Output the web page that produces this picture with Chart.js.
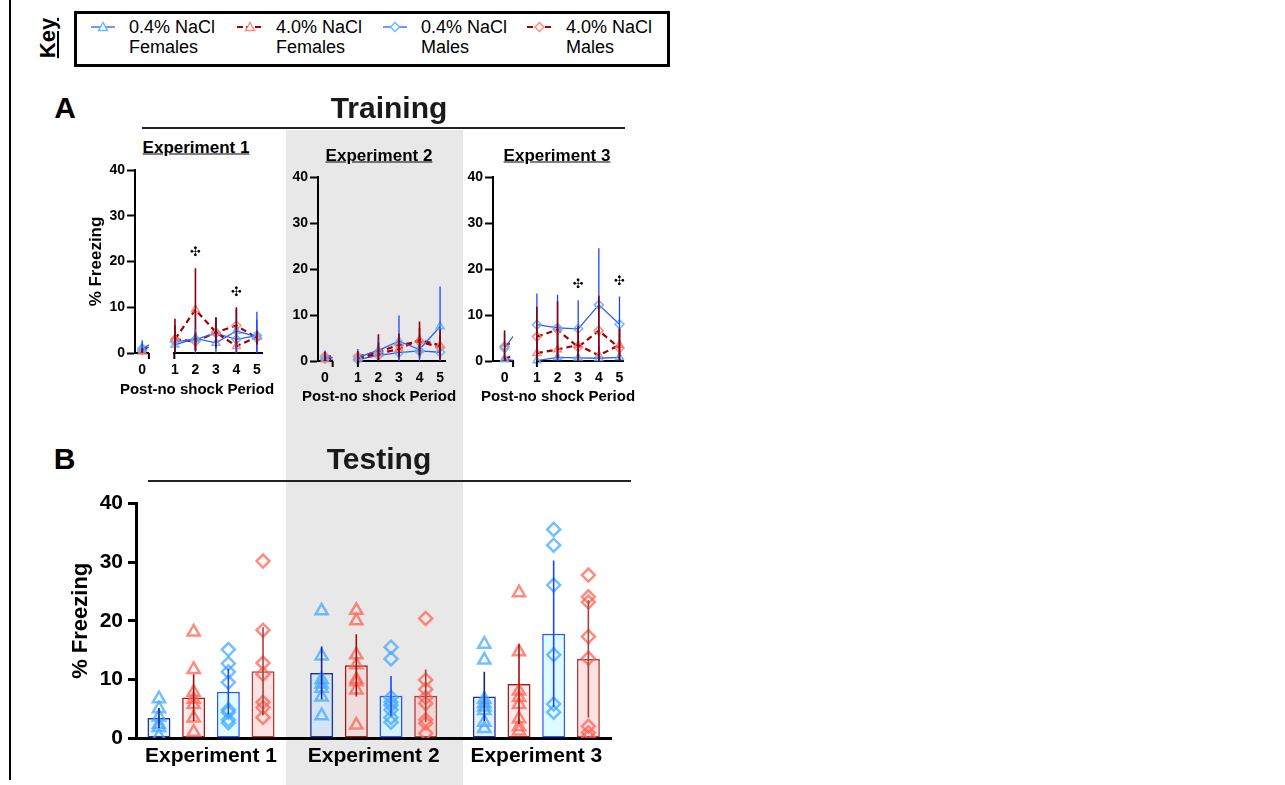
<!DOCTYPE html>
<html><head><meta charset="utf-8"><title>% Freezing – Training and Testing</title>
<script src="https://cdn.jsdelivr.net/npm/chart.js@4.4.1/dist/chart.umd.min.js"></script>
<style>
html,body{margin:0;padding:0;}
body{width:1285px;height:785px;position:relative;overflow:hidden;background:#fff;font-family:"Liberation Sans",Arial,Helvetica,sans-serif;color:#000;}
canvas{position:absolute;}
.box{position:absolute;}
.txt{position:absolute;white-space:nowrap;font-weight:bold;line-height:1;transform:translate(-50%,-50%);}
.leg{position:absolute;white-space:nowrap;font-size:18px;line-height:19.5px;}
</style></head><body>
<div class="box" style="left:286px;top:130px;width:177px;height:655px;background:#e8e8e8;"></div>
<div class="box" style="left:9px;top:0;width:2px;height:780px;background:#000;"></div>
<div class="box" style="left:142px;top:127px;width:483px;height:1.5px;background:#222;"></div>
<div class="box" style="left:148px;top:480px;width:483px;height:1.5px;background:#222;"></div>
<div class="box" style="left:74px;top:11px;width:596px;height:56px;border:3px solid #000;box-sizing:border-box;"></div>
<script>
// ================= DATA =================
// Training: % freezing per post-no shock period (mean, SD)
const periods = [0, 1, 2, 3, 4, 5];

const exp1_F04 = [0.8, 1.8, 3.2, 2.2, 4.8, 3.6];
const exp1_F04_sd = [1.5, 1.8, 6.0, 2.5, 4.8, 5.4];
const exp1_F40 = [0.3, 3.0, 9.5, 4.5, 1.5, 3.5];
const exp1_F40_sd = [0.5, 4.5, 9.0, 3.3, 2.0, 1.5];
const exp1_M04 = [1.0, 2.5, 3.0, 4.3, 3.0, 3.8];
const exp1_M04_sd = [1.8, 2.0, 2.5, 3.5, 6.5, 3.5];
const exp1_M40 = [0.6, 3.0, 2.5, 4.5, 6.0, 3.3];
const exp1_M40_sd = [0.5, 3.0, 2.0, 3.2, 4.0, 1.5];
const exp1_sigPeriods = [2, 4];
const exp1_sigY = [22, 13.3];

const exp2_F04 = [0.8, 0.8, 2.3, 4.3, 2.5, 7.5];
const exp2_F04_sd = [1.5, 1.8, 2.8, 5.6, 2.5, 8.7];
const exp2_F40 = [0.3, 0.6, 1.6, 2.6, 4.6, 3.4];
const exp2_F40_sd = [0.8, 1.0, 4.2, 2.0, 4.0, 3.5];
const exp2_M04 = [0.5, 0.3, 1.2, 1.8, 2.2, 1.9];
const exp2_M04_sd = [1.0, 0.8, 3.5, 2.5, 1.5, 2.0];
const exp2_M40 = [1.0, 1.0, 2.0, 3.5, 4.2, 3.0];
const exp2_M40_sd = [1.0, 1.2, 2.0, 2.5, 3.0, 2.5];
const exp2_sigPeriods = [];
const exp2_sigY = [];

const exp3_F04 = [0.3, 0.1, 0.8, 0.7, 0.6, 0.8];
const exp3_F04_sd = [0.5, 0.3, 1.0, 1.0, 1.0, 1.0];
const exp3_F40 = [0.5, 1.7, 2.5, 3.5, 1.2, 3.5];
const exp3_F40_sd = [0.5, 3.5, 3.5, 4.0, 2.0, 3.5];
const exp3_M04 = [2.8, 7.9, 7.2, 7.0, 12.2, 8.0];
const exp3_M04_sd = [3.2, 6.8, 7.2, 6.2, 12.3, 6.0];
const exp3_M40 = [3.2, 5.3, 6.8, 3.0, 6.6, 2.8];
const exp3_M40_sd = [3.5, 6.5, 6.2, 4.5, 7.6, 4.2];
const exp3_sigPeriods = [3, 5];
const exp3_sigY = [16.6, 17.2];

const yTicks = [0, 10, 20, 30, 40];

// Testing: % freezing (bar = mean, SD, individual animals)
const experiments = ['Experiment 1', 'Experiment 2', 'Experiment 3'];
const test_F04_mean = [3.4, 11.1, 7.1];
const test_F04_sd = [1.7, 4.5, 4.2];
const test_F40_mean = [6.9, 12.4, 9.2];
const test_F40_sd = [4.0, 5.3, 6.8];
const test_M04_mean = [7.9, 7.2, 17.8];
const test_M04_sd = [3.9, 3.4, 12.5];
const test_M40_mean = [11.4, 7.2, 13.5];
const test_M40_sd = [7.5, 4.5, 10.0];
const test_F04_pts = [[6.7, 5.0, 3.6, 2.3, 1.8, 0.3], [21.7, 14.0, 10.0, 9.2, 8.5, 7.0, 3.8], [16.0, 13.3, 6.6, 5.9, 5.3, 4.7, 2.7, 1.6]];
const test_F40_pts = [[18.1, 11.7, 7.8, 6.6, 5.7, 3.4, 1.0], [21.8, 20.0, 14.2, 12.5, 10.0, 9.6, 8.2, 2.2], [24.8, 14.7, 8.0, 6.9, 5.7, 3.3, 1.9, 1.2]];
const test_M04_pts = [[15.1, 12.7, 11.3, 9.5, 4.8, 4.4, 3.1, 2.6], [15.5, 13.5, 6.9, 6.1, 5.6, 4.8, 3.5, 2.7], [35.6, 32.9, 26.1, 14.2, 5.8, 4.4]];
const test_M40_pts = [[30.2, 18.4, 12.8, 10.9, 6.1, 5.2, 3.5], [20.4, 9.9, 8.3, 6.9, 5.9, 3.1, 2.5, 0.8], [27.8, 24.1, 23.2, 17.3, 13.6, 2.0, 0.9, 0.2]];

const groupLabels = ['0.4% NaCl Females', '4.0% NaCl Females', '0.4% NaCl Males', '4.0% NaCl Males'];

// ================= STYLES / LAYOUT =================
const STY = [
  {line:'#2d5bff', dash:[], lw:1.3, marker:'triangle', mk:'rgba(90,180,255,0.9)', err:'#1f45ff', ew:1.3,
   fill:'rgba(185,222,255,0.42)', border:'#1d2f9e', terr:'#15238a', tmk:'rgba(70,170,255,0.75)'},
  {line:'#9e0000', dash:[6,4], lw:2.2, marker:'triangle', mk:'rgba(255,120,105,0.85)', err:'#8b0000', ew:1.6,
   fill:'rgba(248,200,200,0.35)', border:'#a31a1a', terr:'#9e0f0f', tmk:'rgba(255,100,85,0.75)'},
  {line:'#2d5bff', dash:[], lw:1.3, marker:'rectRot', mk:'rgba(90,180,255,0.9)', err:'#1f45ff', ew:1.3,
   fill:'rgba(200,248,255,0.6)', border:'#2a55ff', terr:'#1f44ff', tmk:'rgba(70,170,255,0.75)'},
  {line:'#9e0000', dash:[6,4], lw:2.2, marker:'rectRot', mk:'rgba(255,120,105,0.85)', err:'#8b0000', ew:1.6,
   fill:'rgba(250,185,185,0.42)', border:'#b13a3a', terr:'#a8403a', tmk:'rgba(255,100,85,0.75)'}
];

const TRAIN = [
  {title:'Experiment 1', means:[exp1_F04, exp1_F40, exp1_M04, exp1_M40], sds:[exp1_F04_sd, exp1_F40_sd, exp1_M04_sd, exp1_M40_sd], sigX:exp1_sigPeriods, sigY:exp1_sigY},
  {title:'Experiment 2', means:[exp2_F04, exp2_F40, exp2_M04, exp2_M40], sds:[exp2_F04_sd, exp2_F40_sd, exp2_M04_sd, exp2_M40_sd], sigX:exp2_sigPeriods, sigY:exp2_sigY},
  {title:'Experiment 3', means:[exp3_F04, exp3_F40, exp3_M04, exp3_M40], sds:[exp3_F04_sd, exp3_F40_sd, exp3_M04_sd, exp3_M40_sd], sigX:exp3_sigPeriods, sigY:exp3_sigY}
];
const TRAIN_LAYOUT = [
  {ax:135, s0e:156, s1s:172, s1e:262, top:170, bot:353, l:[-0.52,0.48], r:[0.97,5.25], yTitle:true, tx:196, ty:147, xx:197, xy:388},
  {ax:318, s0e:339, s1s:355, s1e:445, top:177, bot:361, l:[-0.47,0.52], r:[1.0,5.24], yTitle:false, tx:379, ty:155, xx:379, xy:395},
  {ax:493, s0e:518, s1s:534, s1e:623, top:177, bot:361, l:[-0.68,0.5], r:[1.0,5.17], yTitle:false, tx:557, ty:155, xx:558, xy:395}
];
const TEST_LAYOUT = {left:136, right:611, top:501, bot:738, xMin:-0.461, xMax:2.459, cat:0.853, bar:0.663};

// ================= PLUGINS =================
const errorBarPlugin = {
  id:'errbars',
  afterDatasetsDraw(chart){
    const ctx = chart.ctx, ca = chart.chartArea, ys = chart.scales.y;
    ctx.save();
    ctx.beginPath();
    ctx.rect(ca.left - 1.5, ca.top - 40, ca.right - ca.left + 3, ca.bottom - ca.top + 41);
    ctx.clip();
    chart.data.datasets.forEach((ds, i) => {
      if (!ds.errorBars) return;
      const meta = chart.getDatasetMeta(i);
      meta.data.forEach((el, j) => {
        const sd = ds.errorBars[j];
        if (sd == null) return;
        const raw = ds.data[j];
        const m = typeof raw === 'object' ? raw.y : raw;
        ctx.strokeStyle = ds.errorColor;
        ctx.lineWidth = ds.errorWidth || 1.5;
        ctx.setLineDash([]);
        ctx.beginPath();
        ctx.moveTo(el.x, ys.getPixelForValue(m + sd));
        ctx.lineTo(el.x, ys.getPixelForValue(Math.max(0, m - sd)));
        ctx.stroke();
      });
    });
    ctx.restore();
  }
};
const sigPlugin = {
  id:'sig',
  afterDatasetsDraw(chart, args, opts){
    if (!opts || !opts.x) return;
    const ctx = chart.ctx, xs = chart.scales.x, ys = chart.scales.y;
    ctx.save();
    ctx.fillStyle = '#000';
    ctx.font = '13px "DejaVu Sans"';
    ctx.textAlign = 'center'; ctx.textBaseline = 'middle';
    opts.x.forEach((p, i) => ctx.fillText('\u2723', xs.getPixelForValue(p), ys.getPixelForValue(opts.y[i])));
    ctx.restore();
  }
};
const brkPlugin = {
  id:'brk',
  afterDraw(chart, args, opts){
    const ca = chart.chartArea, ctx = chart.ctx;
    const x = opts.side === 'right' ? ca.right : ca.left;
    ctx.save(); ctx.strokeStyle = '#000'; ctx.lineWidth = 2;
    ctx.beginPath(); ctx.moveTo(x, ca.bottom); ctx.lineTo(x, ca.bottom + 6); ctx.stroke();
    ctx.restore();
  }
};

function makeCanvas(left, top, w, h){
  const c = document.createElement('canvas');
  c.width = Math.round(w); c.height = Math.round(h);
  c.style.left = Math.round(left) + 'px'; c.style.top = Math.round(top) + 'px';
  document.body.appendChild(c);
  return c;
}
function addText(text, cx, cy, css){
  const d = document.createElement('div');
  d.className = 'txt'; d.textContent = text;
  d.style.left = cx + 'px'; d.style.top = cy + 'px';
  d.style.cssText += css;
  document.body.appendChild(d);
  return d;
}

// ================= TRAINING CHARTS =================
const PADL = 52, PADT = 12, PADB = 40;
TRAIN.forEach((D, e) => {
  const L = TRAIN_LAYOUT[e];
  const h = PADT + (L.bot - L.top) + PADB;
  const mkSets = (useAll, clip) => STY.map((s, k) => {
    const idx = useAll ? periods.map((_, i) => i) : periods.map((_, i) => i).slice(1);
    return {
      label: groupLabels[k],
      data: idx.map(i => ({x: periods[i], y: D.means[k][i]})),
      errorBars: idx.map(i => D.sds[k][i]), errorColor: s.err, errorWidth: s.ew,
      borderColor: s.line, borderWidth: s.lw, borderDash: s.dash,
      pointStyle: s.marker, pointRadius: 4.5, pointBorderColor: s.mk,
      pointBackgroundColor: 'rgba(255,255,255,0)', pointBorderWidth: 1.5,
      clip: clip, tension: 0, fill: false
    };
  });
  const xCommon = {
    type:'linear', afterFit: s => { s.height = PADB; },
    grid:{display:true, drawOnChartArea:false, drawTicks:false},
    border:{display:true, color:'#000', width:2},
    ticks:{font:{size:14, weight:'bold', family:'"Liberation Sans", Arial'}, color:'#000', padding:9, callback: v => String(v)}
  };
  // left segment (period 0) with y axis
  const cL = makeCanvas(L.ax - PADL, L.top - PADT, PADL + (L.s0e - L.ax) + 2, h);
  new Chart(cL, {
    type:'line',
    data:{datasets: mkSets(true, {left:8, top:12, right:0, bottom:8})},
    options:{
      responsive:false, animation:false, events:[],
      layout:{padding:{left:0, right:2, top:PADT, bottom:0}},
      plugins:{legend:{display:false}, tooltip:{enabled:false}, brk:{side:'right'}},
      scales:{
        x: Object.assign({}, xCommon, {min:L.l[0], max:L.l[1], afterBuildTicks: s => { s.ticks = [{value:periods[0]}]; }}),
        y:{min:0, max:40, afterBuildTicks: s => { s.ticks = yTicks.map(v => ({value:v})); }, afterFit: s => { s.width = PADL; },
           grid:{drawOnChartArea:false, drawTicks:true, tickLength:8, tickColor:'#000', tickWidth:2},
           border:{display:true, color:'#000', width:2},
           ticks:{font:{size:14, weight:'bold', family:'"Liberation Sans", Arial'}, color:'#000', padding:2},
           title:{display:L.yTitle, text:'% Freezing', color:'#000', font:{size:17, weight:'bold', family:'"Liberation Sans", Arial'}, padding:{top:3, bottom:0}}}
      }
    },
    plugins:[errorBarPlugin, brkPlugin]
  });
  // right segment (periods 1-5)
  const cR = makeCanvas(L.s1s - 10, L.top - PADT, 10 + (L.s1e - L.s1s) + 10, h);
  new Chart(cR, {
    type:'line',
    data:{datasets: mkSets(false, {left:7, top:12, right:8, bottom:8})},
    options:{
      responsive:false, animation:false, events:[],
      layout:{padding:{left:10, right:10, top:PADT, bottom:0}},
      plugins:{legend:{display:false}, tooltip:{enabled:false}, brk:{side:'left'}, sig:{x:D.sigX, y:D.sigY}},
      scales:{
        x: Object.assign({}, xCommon, {min:L.r[0], max:L.r[1], afterBuildTicks: s => { s.ticks = periods.slice(1).map(v => ({value:v})); }}),
        y:{display:false, min:0, max:40}
      }
    },
    plugins:[errorBarPlugin, sigPlugin, brkPlugin]
  });
  addText(D.title, L.tx, L.ty, 'font-size:17px;text-decoration:underline;');
  addText('Post-no shock Period', L.xx, L.xy, 'font-size:15px;');
});

// ================= TESTING CHART =================
(function(){
  const T = TEST_LAYOUT;
  const TPADL = 76, TPADT = 15, TPADR = 20, TPADB = 46;
  const c = makeCanvas(T.left - TPADL, T.top - TPADT, TPADL + (T.right - T.left) + TPADR, TPADT + (T.bot - T.top) + TPADB);
  const means = [test_F04_mean, test_F40_mean, test_M04_mean, test_M40_mean];
  const sds = [test_F04_sd, test_F40_sd, test_M04_sd, test_M40_sd];
  const pts = [test_F04_pts, test_F40_pts, test_M04_pts, test_M40_pts];
  const slot = T.cat / STY.length;
  const bars = STY.map((s, k) => ({
    type:'bar', label: groupLabels[k],
    data: experiments.map((_, i) => ({x:i, y:means[k][i]})),
    errorBars: sds[k], errorColor: s.terr, errorWidth: 1.6,
    backgroundColor: s.fill, borderColor: s.border, borderWidth: 1.5, borderSkipped: false,
    categoryPercentage: T.cat, barPercentage: T.bar, order: 2
  }));
  const scat = STY.map((s, k) => ({
    type:'scatter', label: groupLabels[k] + ' (animals)',
    data: pts[k].flatMap((arr, i) => arr.map(v => ({x: i + (k - (STY.length - 1) / 2) * slot, y: v}))),
    pointStyle: s.marker, pointRadius: s.marker === 'triangle' ? 7 : 6.5,
    borderColor: s.tmk, backgroundColor: 'rgba(255,255,255,0)', pointBorderWidth: 2.5, order: 1
  }));
  new Chart(c, {
    type:'bar',
    data:{datasets: bars.concat(scat)},
    options:{
      responsive:false, animation:false, events:[],
      layout:{padding:{left:0, right:TPADR, top:TPADT, bottom:0}},
      plugins:{legend:{display:false}, tooltip:{enabled:false}},
      scales:{
        x:{type:'linear', min:T.xMin, max:T.xMax, offset:false,
           afterBuildTicks: s => { s.ticks = experiments.map((_, i) => ({value:i})); },
           afterFit: s => { s.height = TPADB; },
           grid:{display:true, offset:false, drawOnChartArea:false, drawTicks:false},
           border:{display:true, color:'#000', width:3},
           ticks:{font:{size:21, weight:'bold', family:'"Liberation Sans", Arial'}, color:'#000', padding:6, callback: v => experiments[v]}},
        y:{min:0, max:40, afterBuildTicks: s => { s.ticks = yTicks.map(v => ({value:v})); }, afterFit: s => { s.width = TPADL; },
           grid:{drawOnChartArea:false, drawTicks:true, tickLength:8, tickColor:'#000', tickWidth:3},
           border:{display:true, color:'#000', width:3},
           ticks:{font:{size:21, weight:'bold', family:'"Liberation Sans", Arial'}, color:'#000', padding:5},
           title:{display:true, text:'% Freezing', color:'#000', font:{size:22, weight:'bold', family:'"Liberation Sans", Arial'}, padding:{top:8, bottom:0}}}
      }
    },
    plugins:[errorBarPlugin]
  });
})();

// ================= HEADINGS =================
addText('A', 65, 108, 'font-size:30px;');
addText('Training', 389, 108, 'font-size:30px;color:#1a1a1a;');
addText('B', 64.5, 459, 'font-size:30px;');
addText('Testing', 379, 459, 'font-size:30px;color:#1a1a1a;');
const key = addText('Key', 47.5, 38, 'font-size:22px;text-decoration:underline;');
key.style.transform = 'translate(-50%,-50%) rotate(-90deg)';

// ================= LEGEND (key box) =================
const LEG = [
  {x1:91, x2:115, tx:129},
  {x1:237, x2:263, tx:276},
  {x1:383, x2:407, tx:421},
  {x1:527, x2:552, tx:566}
];
LEG.forEach((p, k) => {
  const s = STY[k];
  const w = p.x2 - p.x1, cx = w / 2, cy = 7;
  const mark = s.marker === 'triangle'
    ? `<polygon points="${cx},${cy-4.5} ${cx-4.5},${cy+3.5} ${cx+4.5},${cy+3.5}" fill="#fff" stroke="${s.mk}" stroke-width="1.5"/>`
    : `<polygon points="${cx},${cy-4.5} ${cx+4.5},${cy} ${cx},${cy+4.5} ${cx-4.5},${cy}" fill="#fff" stroke="${s.mk}" stroke-width="1.5"/>`;
  const svg = `<svg class="box" style="left:${p.x1}px;top:20px;" width="${w}" height="14"><line x1="0" y1="${cy}" x2="${w}" y2="${cy}" stroke="${s.line}" stroke-width="${s.lw}" ${s.dash.length ? 'stroke-dasharray="6,3"' : ''}/>${mark}</svg>`;
  document.body.insertAdjacentHTML('beforeend', svg);
  const parts = groupLabels[k].split(' ');
  const d = document.createElement('div');
  d.className = 'leg';
  d.style.left = p.tx + 'px'; d.style.top = '18px';
  d.innerHTML = parts.slice(0, 2).join(' ') + '<br>' + parts.slice(2).join(' ');
  document.body.appendChild(d);
});
</script>
</body></html>
